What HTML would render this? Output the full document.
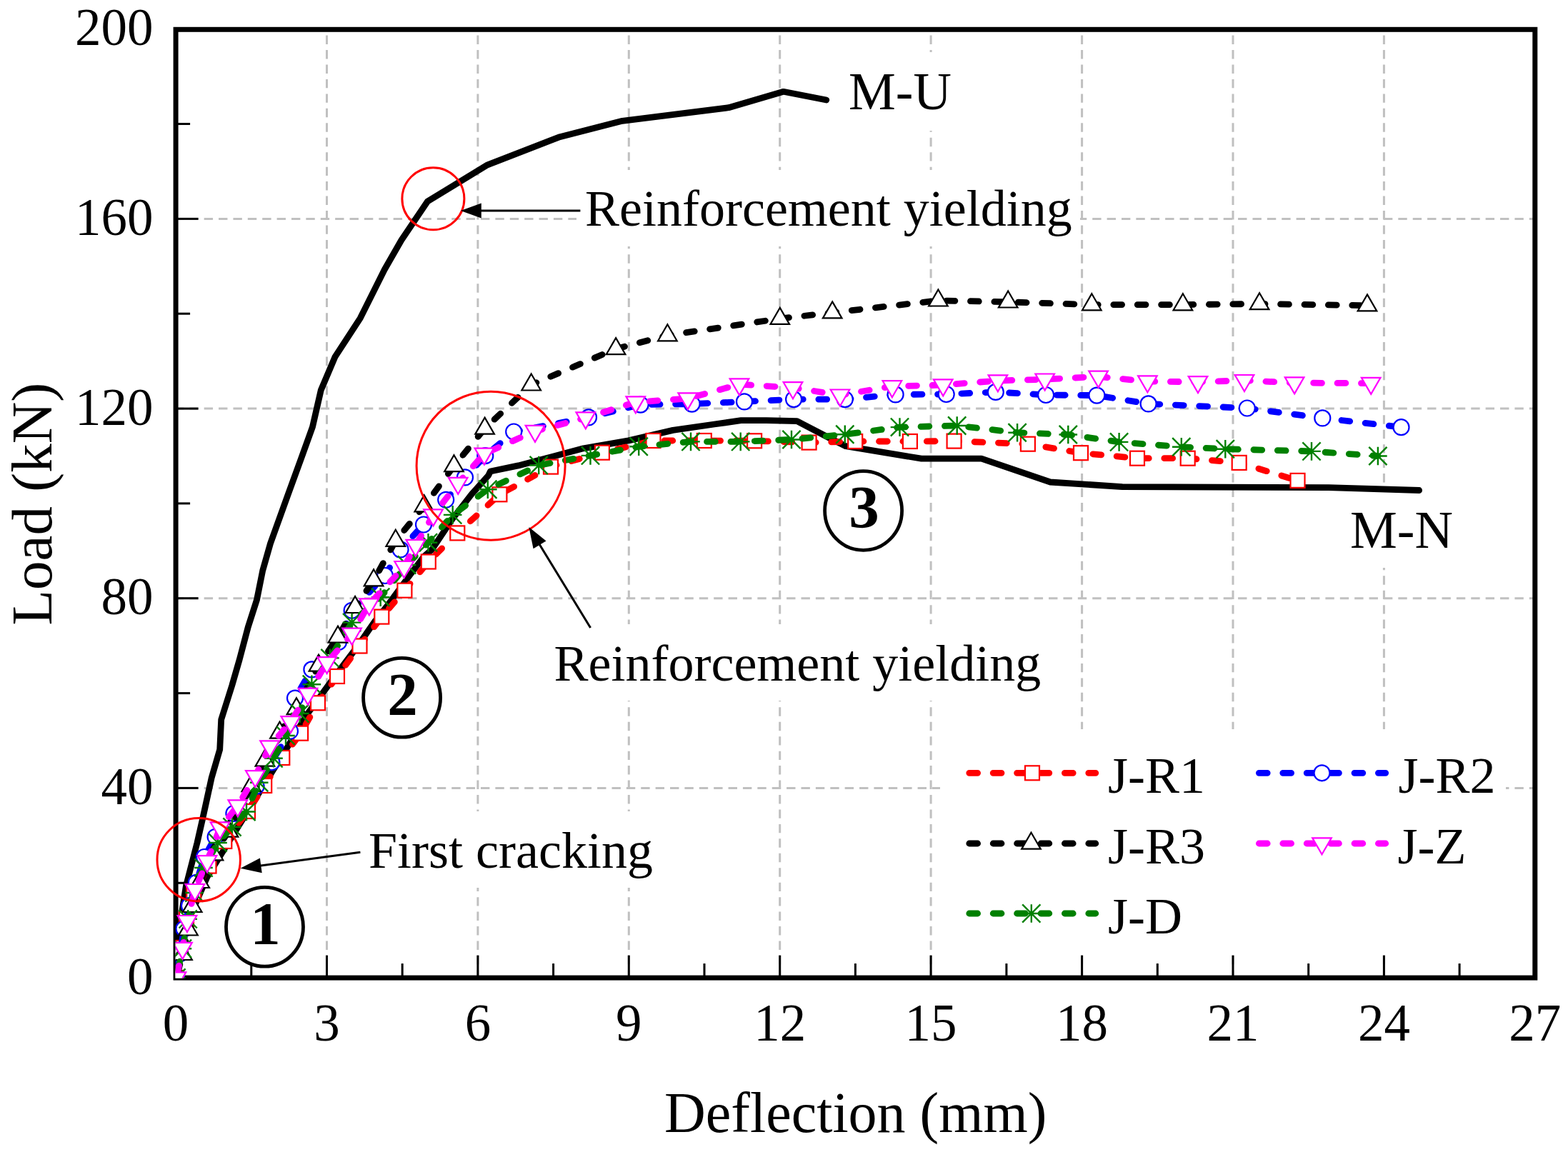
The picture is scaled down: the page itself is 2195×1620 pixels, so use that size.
<!DOCTYPE html>
<html><head><meta charset="utf-8"><title>Load-deflection curves</title>
<style>html,body{margin:0;padding:0;background:#fff;}svg{display:block;}</style>
</head><body>
<svg width="2195" height="1620" viewBox="0 0 2195 1620">
<rect x="0" y="0" width="2195" height="1620" fill="#fff"/>
<g stroke="#c0c0c0" stroke-width="3" stroke-dasharray="12.4 8.05" fill="none"><line x1="457.5" y1="1370.8" x2="457.5" y2="40.7"/><line x1="668.9" y1="1370.8" x2="668.9" y2="40.7"/><line x1="880.3" y1="1370.8" x2="880.3" y2="40.7"/><line x1="1091.7" y1="1370.8" x2="1091.7" y2="40.7"/><line x1="1303.1" y1="1370.8" x2="1303.1" y2="40.7"/><line x1="1514.6" y1="1370.8" x2="1514.6" y2="40.7"/><line x1="1726.0" y1="1370.8" x2="1726.0" y2="40.7"/><line x1="1937.4" y1="1370.8" x2="1937.4" y2="40.7"/></g>
<g stroke="#c0c0c0" stroke-width="3" stroke-dasharray="12.4 7.986" fill="none"><line x1="244.9" y1="1103.4" x2="2148.8" y2="1103.4"/><line x1="244.9" y1="837.7" x2="2148.8" y2="837.7"/><line x1="244.9" y1="572.1" x2="2148.8" y2="572.1"/><line x1="244.9" y1="306.4" x2="2148.8" y2="306.4"/></g>
<rect x="1176" y="73" width="166" height="110" fill="#fff"/>
<rect x="807" y="238" width="705" height="107" fill="#fff"/>
<rect x="1878" y="687" width="166" height="108" fill="#fff"/>
<rect x="763" y="874" width="706" height="107" fill="#fff"/>
<rect x="504" y="1136" width="424" height="107" fill="#fff"/>
<rect x="1316" y="1021" width="792" height="315" fill="#fff"/>
<g stroke="#000" stroke-width="3"><line x1="351.8" y1="1369.1" x2="351.8" y2="1349.1"/><line x1="457.5" y1="1369.1" x2="457.5" y2="1337.6"/><line x1="563.2" y1="1369.1" x2="563.2" y2="1349.1"/><line x1="668.9" y1="1369.1" x2="668.9" y2="1337.6"/><line x1="774.6" y1="1369.1" x2="774.6" y2="1349.1"/><line x1="880.3" y1="1369.1" x2="880.3" y2="1337.6"/><line x1="986.0" y1="1369.1" x2="986.0" y2="1349.1"/><line x1="1091.7" y1="1369.1" x2="1091.7" y2="1337.6"/><line x1="1197.4" y1="1369.1" x2="1197.4" y2="1349.1"/><line x1="1303.1" y1="1369.1" x2="1303.1" y2="1337.6"/><line x1="1408.9" y1="1369.1" x2="1408.9" y2="1349.1"/><line x1="1514.6" y1="1369.1" x2="1514.6" y2="1337.6"/><line x1="1620.3" y1="1369.1" x2="1620.3" y2="1349.1"/><line x1="1726.0" y1="1369.1" x2="1726.0" y2="1337.6"/><line x1="1831.7" y1="1369.1" x2="1831.7" y2="1349.1"/><line x1="1937.4" y1="1369.1" x2="1937.4" y2="1337.6"/><line x1="2043.1" y1="1369.1" x2="2043.1" y2="1349.1"/><line x1="246.1" y1="1236.3" x2="266.1" y2="1236.3"/><line x1="246.1" y1="1103.4" x2="277.6" y2="1103.4"/><line x1="246.1" y1="970.6" x2="266.1" y2="970.6"/><line x1="246.1" y1="837.7" x2="277.6" y2="837.7"/><line x1="246.1" y1="704.9" x2="266.1" y2="704.9"/><line x1="246.1" y1="572.1" x2="277.6" y2="572.1"/><line x1="246.1" y1="439.2" x2="266.1" y2="439.2"/><line x1="246.1" y1="306.4" x2="277.6" y2="306.4"/><line x1="246.1" y1="173.5" x2="266.1" y2="173.5"/></g>
<rect x="246.1" y="41.3" width="1902.7" height="1327.8" fill="none" stroke="#000" stroke-width="7"/>
<defs><clipPath id="pc"><rect x="245.7" y="0" width="1905" height="1369.6"/></clipPath></defs>
<g clip-path="url(#pc)">
<path d="M246.5,1369.0 L262.0,1292.0 L290.0,1228.0 L330.0,1163.0 L372.0,1095.0 L400.0,1050.0 L430.0,1000.0 L470.0,945.4 L499.0,907.0 L524.7,870.0 L541.5,849.0 L570.6,809.5 L592.8,779.9 L604.5,769.6 L633.5,726.4 L660.3,691.9 L683.6,665.9 L686.5,660.0 L725.6,651.9 L771.0,640.0 L816.7,627.8 L880.0,616.9 L942.0,602.4 L1000.0,594.0 L1037.3,588.7 L1072.8,588.7 L1115.7,589.6 L1156.7,611.0 L1184.0,624.7 L1289.9,642.2 L1373.9,642.2 L1470.3,675.0 L1571.1,681.6 L1860.0,682.6 L1986.6,686.5" fill="none" stroke="#000" stroke-width="8.8" stroke-linejoin="round" stroke-linecap="round"/>
<path d="M246.5,1369.0 L250.5,1320.0 L255.0,1275.0 L260.5,1240.0 L268.0,1211.0 L276.0,1180.0 L283.5,1147.0 L287.3,1129.7 L296.2,1089.0 L307.7,1049.6 L309.7,1007.5 L324.7,960.0 L335.1,924.0 L347.3,877.8 L359.5,839.8 L367.7,799.0 L378.5,761.0 L403.0,693.0 L422.3,640.0 L437.5,597.8 L449.3,546.2 L469.2,499.3 L504.4,445.3 L538.4,377.3 L561.9,336.2 L598.5,282.0 L682.5,230.8 L783.7,191.7 L871.1,169.3 L1020.1,150.7 L1096.7,128.3 L1156.8,140.0" fill="none" stroke="#000" stroke-width="8.8" stroke-linejoin="round" stroke-linecap="round"/>
<path d="M247.0,1369.0 L252.8,1327.0 L261.0,1287.0 L271.2,1250.0 L292.5,1212.6 L314.3,1178.0 L347.0,1136.0 L370.2,1100.0 L395.3,1061.0 L421.1,1026.7 L445.0,984.3 L472.0,947.0 L503.5,904.5 L534.3,863.6 L566.4,826.7 L599.8,786.5 L640.3,746.4 L699.4,692.3 L771.0,653.6 L842.9,633.7 L914.5,617.0 L985.8,617.0 L1056.1,617.3 L1132.6,619.6 L1197.2,618.0 L1273.9,618.0 L1335.6,617.6 L1438.9,621.7 L1513.0,634.2 L1592.0,641.7 L1662.7,641.7 L1734.7,647.9 L1816.5,672.9" fill="none" stroke="#ff0000" stroke-width="8.8" stroke-linecap="round" stroke-linejoin="round" stroke-dasharray="11.8 21.6" stroke-dashoffset="-4.2"/>
<rect x="237.0" y="1359.0" width="20" height="20" fill="#fff" stroke="#ff0000" stroke-width="2.2"/><rect x="242.8" y="1317.0" width="20" height="20" fill="#fff" stroke="#ff0000" stroke-width="2.2"/><rect x="251.0" y="1277.0" width="20" height="20" fill="#fff" stroke="#ff0000" stroke-width="2.2"/><rect x="261.2" y="1240.0" width="20" height="20" fill="#fff" stroke="#ff0000" stroke-width="2.2"/><rect x="282.5" y="1202.6" width="20" height="20" fill="#fff" stroke="#ff0000" stroke-width="2.2"/><rect x="304.3" y="1168.0" width="20" height="20" fill="#fff" stroke="#ff0000" stroke-width="2.2"/><rect x="337.0" y="1126.0" width="20" height="20" fill="#fff" stroke="#ff0000" stroke-width="2.2"/><rect x="360.2" y="1090.0" width="20" height="20" fill="#fff" stroke="#ff0000" stroke-width="2.2"/><rect x="385.3" y="1051.0" width="20" height="20" fill="#fff" stroke="#ff0000" stroke-width="2.2"/><rect x="411.1" y="1016.7" width="20" height="20" fill="#fff" stroke="#ff0000" stroke-width="2.2"/><rect x="435.0" y="974.3" width="20" height="20" fill="#fff" stroke="#ff0000" stroke-width="2.2"/><rect x="462.0" y="937.0" width="20" height="20" fill="#fff" stroke="#ff0000" stroke-width="2.2"/><rect x="493.5" y="894.5" width="20" height="20" fill="#fff" stroke="#ff0000" stroke-width="2.2"/><rect x="524.3" y="853.6" width="20" height="20" fill="#fff" stroke="#ff0000" stroke-width="2.2"/><rect x="556.4" y="816.7" width="20" height="20" fill="#fff" stroke="#ff0000" stroke-width="2.2"/><rect x="589.8" y="776.5" width="20" height="20" fill="#fff" stroke="#ff0000" stroke-width="2.2"/><rect x="630.3" y="736.4" width="20" height="20" fill="#fff" stroke="#ff0000" stroke-width="2.2"/><rect x="689.4" y="682.3" width="20" height="20" fill="#fff" stroke="#ff0000" stroke-width="2.2"/><rect x="761.0" y="643.6" width="20" height="20" fill="#fff" stroke="#ff0000" stroke-width="2.2"/><rect x="832.9" y="623.7" width="20" height="20" fill="#fff" stroke="#ff0000" stroke-width="2.2"/><rect x="904.5" y="607.0" width="20" height="20" fill="#fff" stroke="#ff0000" stroke-width="2.2"/><rect x="975.8" y="607.0" width="20" height="20" fill="#fff" stroke="#ff0000" stroke-width="2.2"/><rect x="1046.1" y="607.3" width="20" height="20" fill="#fff" stroke="#ff0000" stroke-width="2.2"/><rect x="1122.6" y="609.6" width="20" height="20" fill="#fff" stroke="#ff0000" stroke-width="2.2"/><rect x="1187.2" y="608.0" width="20" height="20" fill="#fff" stroke="#ff0000" stroke-width="2.2"/><rect x="1263.9" y="608.0" width="20" height="20" fill="#fff" stroke="#ff0000" stroke-width="2.2"/><rect x="1325.6" y="607.6" width="20" height="20" fill="#fff" stroke="#ff0000" stroke-width="2.2"/><rect x="1428.9" y="611.7" width="20" height="20" fill="#fff" stroke="#ff0000" stroke-width="2.2"/><rect x="1503.0" y="624.2" width="20" height="20" fill="#fff" stroke="#ff0000" stroke-width="2.2"/><rect x="1582.0" y="631.7" width="20" height="20" fill="#fff" stroke="#ff0000" stroke-width="2.2"/><rect x="1652.7" y="631.7" width="20" height="20" fill="#fff" stroke="#ff0000" stroke-width="2.2"/><rect x="1724.7" y="637.9" width="20" height="20" fill="#fff" stroke="#ff0000" stroke-width="2.2"/><rect x="1806.5" y="662.9" width="20" height="20" fill="#fff" stroke="#ff0000" stroke-width="2.2"/>
<path d="M247.0,1369.0 L252.0,1335.5 L257.5,1300.5 L265.0,1268.0 L274.8,1235.8 L286.0,1200.0 L301.6,1171.8 L327.4,1139.0 L358.6,1101.0 L380.4,1067.3 L406.0,1023.8 L413.0,977.6 L436.4,937.4 L474.0,899.0 L492.6,854.8 L539.0,806.0 L560.6,769.4 L593.0,734.5 L624.2,699.8 L651.0,668.4 L679.3,638.2 L719.2,604.5 L824.0,584.4 L896.7,566.6 L968.6,565.6 L1042.0,562.4 L1111.1,559.1 L1182.8,559.1 L1253.6,552.4 L1324.7,552.0 L1393.8,548.9 L1464.1,553.0 L1535.4,553.6 L1607.6,565.4 L1745.8,571.5 L1851.3,585.4 L1961.5,598.2" fill="none" stroke="#0000ff" stroke-width="8.8" stroke-linecap="round" stroke-linejoin="round" stroke-dasharray="11.8 21.6" stroke-dashoffset="-16.4"/>
<circle cx="247.0" cy="1369.0" r="11" fill="#fff" stroke="#0000ff" stroke-width="2.2"/><circle cx="252.0" cy="1335.5" r="11" fill="#fff" stroke="#0000ff" stroke-width="2.2"/><circle cx="257.5" cy="1300.5" r="11" fill="#fff" stroke="#0000ff" stroke-width="2.2"/><circle cx="265.0" cy="1268.0" r="11" fill="#fff" stroke="#0000ff" stroke-width="2.2"/><circle cx="274.8" cy="1235.8" r="11" fill="#fff" stroke="#0000ff" stroke-width="2.2"/><circle cx="286.0" cy="1200.0" r="11" fill="#fff" stroke="#0000ff" stroke-width="2.2"/><circle cx="301.6" cy="1171.8" r="11" fill="#fff" stroke="#0000ff" stroke-width="2.2"/><circle cx="327.4" cy="1139.0" r="11" fill="#fff" stroke="#0000ff" stroke-width="2.2"/><circle cx="358.6" cy="1101.0" r="11" fill="#fff" stroke="#0000ff" stroke-width="2.2"/><circle cx="380.4" cy="1067.3" r="11" fill="#fff" stroke="#0000ff" stroke-width="2.2"/><circle cx="406.0" cy="1023.8" r="11" fill="#fff" stroke="#0000ff" stroke-width="2.2"/><circle cx="413.0" cy="977.6" r="11" fill="#fff" stroke="#0000ff" stroke-width="2.2"/><circle cx="436.4" cy="937.4" r="11" fill="#fff" stroke="#0000ff" stroke-width="2.2"/><circle cx="474.0" cy="899.0" r="11" fill="#fff" stroke="#0000ff" stroke-width="2.2"/><circle cx="492.6" cy="854.8" r="11" fill="#fff" stroke="#0000ff" stroke-width="2.2"/><circle cx="539.0" cy="806.0" r="11" fill="#fff" stroke="#0000ff" stroke-width="2.2"/><circle cx="560.6" cy="769.4" r="11" fill="#fff" stroke="#0000ff" stroke-width="2.2"/><circle cx="593.0" cy="734.5" r="11" fill="#fff" stroke="#0000ff" stroke-width="2.2"/><circle cx="624.2" cy="699.8" r="11" fill="#fff" stroke="#0000ff" stroke-width="2.2"/><circle cx="651.0" cy="668.4" r="11" fill="#fff" stroke="#0000ff" stroke-width="2.2"/><circle cx="679.3" cy="638.2" r="11" fill="#fff" stroke="#0000ff" stroke-width="2.2"/><circle cx="719.2" cy="604.5" r="11" fill="#fff" stroke="#0000ff" stroke-width="2.2"/><circle cx="824.0" cy="584.4" r="11" fill="#fff" stroke="#0000ff" stroke-width="2.2"/><circle cx="896.7" cy="566.6" r="11" fill="#fff" stroke="#0000ff" stroke-width="2.2"/><circle cx="968.6" cy="565.6" r="11" fill="#fff" stroke="#0000ff" stroke-width="2.2"/><circle cx="1042.0" cy="562.4" r="11" fill="#fff" stroke="#0000ff" stroke-width="2.2"/><circle cx="1111.1" cy="559.1" r="11" fill="#fff" stroke="#0000ff" stroke-width="2.2"/><circle cx="1182.8" cy="559.1" r="11" fill="#fff" stroke="#0000ff" stroke-width="2.2"/><circle cx="1253.6" cy="552.4" r="11" fill="#fff" stroke="#0000ff" stroke-width="2.2"/><circle cx="1324.7" cy="552.0" r="11" fill="#fff" stroke="#0000ff" stroke-width="2.2"/><circle cx="1393.8" cy="548.9" r="11" fill="#fff" stroke="#0000ff" stroke-width="2.2"/><circle cx="1464.1" cy="553.0" r="11" fill="#fff" stroke="#0000ff" stroke-width="2.2"/><circle cx="1535.4" cy="553.6" r="11" fill="#fff" stroke="#0000ff" stroke-width="2.2"/><circle cx="1607.6" cy="565.4" r="11" fill="#fff" stroke="#0000ff" stroke-width="2.2"/><circle cx="1745.8" cy="571.5" r="11" fill="#fff" stroke="#0000ff" stroke-width="2.2"/><circle cx="1851.3" cy="585.4" r="11" fill="#fff" stroke="#0000ff" stroke-width="2.2"/><circle cx="1961.5" cy="598.2" r="11" fill="#fff" stroke="#0000ff" stroke-width="2.2"/>
<path d="M247.0,1369.0 L255.5,1336.3 L263.5,1301.8 L269.2,1269.3 L279.7,1235.3 L299.0,1196.6 L320.0,1163.9 L351.8,1100.5 L370.9,1064.9 L391.5,1025.9 L415.0,992.5 L446.0,931.9 L473.0,891.9 L497.1,850.3 L523.1,812.6 L553.8,757.1 L593.8,708.6 L635.5,652.5 L678.6,599.9 L743.7,538.8 L862.1,488.4 L934.4,469.6 L1091.8,446.2 L1165.2,437.7 L1313.4,420.8 L1411.2,422.8 L1528.3,426.6 L1655.9,426.6 L1763.1,425.5 L1914.0,427.7" fill="none" stroke="#000000" stroke-width="8.8" stroke-linecap="round" stroke-linejoin="round" stroke-dasharray="11.8 21.6" stroke-dashoffset="-7.3"/>
<path d="M247.0,1353.7 L260.3,1376.7 L233.7,1376.7 Z" fill="#fff" stroke="#000000" stroke-width="2.2"/><path d="M255.5,1321.0 L268.8,1344.0 L242.2,1344.0 Z" fill="#fff" stroke="#000000" stroke-width="2.2"/><path d="M263.5,1286.5 L276.8,1309.5 L250.2,1309.5 Z" fill="#fff" stroke="#000000" stroke-width="2.2"/><path d="M269.2,1254.0 L282.5,1277.0 L255.9,1277.0 Z" fill="#fff" stroke="#000000" stroke-width="2.2"/><path d="M279.7,1220.0 L293.0,1243.0 L266.4,1243.0 Z" fill="#fff" stroke="#000000" stroke-width="2.2"/><path d="M299.0,1181.3 L312.3,1204.3 L285.7,1204.3 Z" fill="#fff" stroke="#000000" stroke-width="2.2"/><path d="M320.0,1148.6 L333.3,1171.6 L306.7,1171.6 Z" fill="#fff" stroke="#000000" stroke-width="2.2"/><path d="M351.8,1085.2 L365.1,1108.2 L338.5,1108.2 Z" fill="#fff" stroke="#000000" stroke-width="2.2"/><path d="M370.9,1049.6 L384.2,1072.6 L357.6,1072.6 Z" fill="#fff" stroke="#000000" stroke-width="2.2"/><path d="M391.5,1010.6 L404.8,1033.6 L378.2,1033.6 Z" fill="#fff" stroke="#000000" stroke-width="2.2"/><path d="M415.0,977.2 L428.3,1000.2 L401.7,1000.2 Z" fill="#fff" stroke="#000000" stroke-width="2.2"/><path d="M446.0,916.6 L459.3,939.6 L432.7,939.6 Z" fill="#fff" stroke="#000000" stroke-width="2.2"/><path d="M473.0,876.6 L486.3,899.6 L459.7,899.6 Z" fill="#fff" stroke="#000000" stroke-width="2.2"/><path d="M497.1,835.0 L510.4,858.0 L483.8,858.0 Z" fill="#fff" stroke="#000000" stroke-width="2.2"/><path d="M523.1,797.3 L536.4,820.3 L509.8,820.3 Z" fill="#fff" stroke="#000000" stroke-width="2.2"/><path d="M553.8,741.8 L567.1,764.8 L540.5,764.8 Z" fill="#fff" stroke="#000000" stroke-width="2.2"/><path d="M593.8,693.3 L607.1,716.3 L580.5,716.3 Z" fill="#fff" stroke="#000000" stroke-width="2.2"/><path d="M635.5,637.2 L648.8,660.2 L622.2,660.2 Z" fill="#fff" stroke="#000000" stroke-width="2.2"/><path d="M678.6,584.6 L691.9,607.6 L665.3,607.6 Z" fill="#fff" stroke="#000000" stroke-width="2.2"/><path d="M743.7,523.5 L757.0,546.5 L730.4,546.5 Z" fill="#fff" stroke="#000000" stroke-width="2.2"/><path d="M862.1,473.1 L875.4,496.1 L848.8,496.1 Z" fill="#fff" stroke="#000000" stroke-width="2.2"/><path d="M934.4,454.3 L947.7,477.3 L921.1,477.3 Z" fill="#fff" stroke="#000000" stroke-width="2.2"/><path d="M1091.8,430.9 L1105.1,453.9 L1078.5,453.9 Z" fill="#fff" stroke="#000000" stroke-width="2.2"/><path d="M1165.2,422.4 L1178.5,445.4 L1151.9,445.4 Z" fill="#fff" stroke="#000000" stroke-width="2.2"/><path d="M1313.4,405.5 L1326.7,428.5 L1300.1,428.5 Z" fill="#fff" stroke="#000000" stroke-width="2.2"/><path d="M1411.2,407.5 L1424.5,430.5 L1397.9,430.5 Z" fill="#fff" stroke="#000000" stroke-width="2.2"/><path d="M1528.3,411.3 L1541.6,434.3 L1515.0,434.3 Z" fill="#fff" stroke="#000000" stroke-width="2.2"/><path d="M1655.9,411.3 L1669.2,434.3 L1642.6,434.3 Z" fill="#fff" stroke="#000000" stroke-width="2.2"/><path d="M1763.1,410.2 L1776.4,433.2 L1749.8,433.2 Z" fill="#fff" stroke="#000000" stroke-width="2.2"/><path d="M1914.0,412.4 L1927.3,435.4 L1900.7,435.4 Z" fill="#fff" stroke="#000000" stroke-width="2.2"/>
<path d="M247.0,1369.0 L255.4,1328.3 L263.2,1286.9 L272.0,1250.0 L285.0,1215.0 L305.0,1180.0 L325.0,1158.0 L345.0,1136.5 L362.7,1095.8 L383.0,1061.8 L400.0,1030.0 L419.7,999.0 L436.4,958.3 L462.0,921.4 L492.6,871.6 L532.7,836.3 L569.6,791.0 L599.5,759.8 L633.7,720.9 L682.8,685.3 L754.2,651.5 L826.5,637.9 L894.2,625.3 L967.0,618.4 L1036.7,618.4 L1108.0,615.5 L1182.8,608.3 L1259.5,598.1 L1339.7,596.0 L1424.1,605.7 L1495.3,608.5 L1566.6,618.9 L1653.8,625.8 L1715.3,628.7 L1836.0,631.9 L1928.9,638.5" fill="none" stroke="#008000" stroke-width="8.8" stroke-linecap="round" stroke-linejoin="round" stroke-dasharray="11.8 21.6" stroke-dashoffset="-11.5"/>
<path d="M247.0,1356.2 V1381.8 M234.2,1369.0 H259.8 M234.4,1356.4 L259.6,1381.6 M234.4,1381.6 L259.6,1356.4" stroke="#008000" stroke-width="2.4" fill="none"/><path d="M255.4,1315.5 V1341.1 M242.6,1328.3 H268.2 M242.8,1315.7 L268.0,1340.9 M242.8,1340.9 L268.0,1315.7" stroke="#008000" stroke-width="2.4" fill="none"/><path d="M263.2,1274.1 V1299.7 M250.4,1286.9 H276.0 M250.6,1274.3 L275.8,1299.5 M250.6,1299.5 L275.8,1274.3" stroke="#008000" stroke-width="2.4" fill="none"/><path d="M272.0,1237.2 V1262.8 M259.2,1250.0 H284.8 M259.4,1237.4 L284.6,1262.6 M259.4,1262.6 L284.6,1237.4" stroke="#008000" stroke-width="2.4" fill="none"/><path d="M285.0,1202.2 V1227.8 M272.2,1215.0 H297.8 M272.4,1202.4 L297.6,1227.6 M272.4,1227.6 L297.6,1202.4" stroke="#008000" stroke-width="2.4" fill="none"/><path d="M305.0,1167.2 V1192.8 M292.2,1180.0 H317.8 M292.4,1167.4 L317.6,1192.6 M292.4,1192.6 L317.6,1167.4" stroke="#008000" stroke-width="2.4" fill="none"/><path d="M325.0,1145.2 V1170.8 M312.2,1158.0 H337.8 M312.4,1145.4 L337.6,1170.6 M312.4,1170.6 L337.6,1145.4" stroke="#008000" stroke-width="2.4" fill="none"/><path d="M345.0,1123.7 V1149.3 M332.2,1136.5 H357.8 M332.4,1123.9 L357.6,1149.1 M332.4,1149.1 L357.6,1123.9" stroke="#008000" stroke-width="2.4" fill="none"/><path d="M362.7,1083.0 V1108.6 M349.9,1095.8 H375.5 M350.1,1083.2 L375.3,1108.4 M350.1,1108.4 L375.3,1083.2" stroke="#008000" stroke-width="2.4" fill="none"/><path d="M383.0,1049.0 V1074.6 M370.2,1061.8 H395.8 M370.4,1049.2 L395.6,1074.4 M370.4,1074.4 L395.6,1049.2" stroke="#008000" stroke-width="2.4" fill="none"/><path d="M400.0,1017.2 V1042.8 M387.2,1030.0 H412.8 M387.4,1017.4 L412.6,1042.6 M387.4,1042.6 L412.6,1017.4" stroke="#008000" stroke-width="2.4" fill="none"/><path d="M419.7,986.2 V1011.8 M406.9,999.0 H432.5 M407.1,986.4 L432.3,1011.6 M407.1,1011.6 L432.3,986.4" stroke="#008000" stroke-width="2.4" fill="none"/><path d="M436.4,945.5 V971.1 M423.6,958.3 H449.2 M423.8,945.7 L449.0,970.9 M423.8,970.9 L449.0,945.7" stroke="#008000" stroke-width="2.4" fill="none"/><path d="M462.0,908.6 V934.2 M449.2,921.4 H474.8 M449.4,908.8 L474.6,934.0 M449.4,934.0 L474.6,908.8" stroke="#008000" stroke-width="2.4" fill="none"/><path d="M492.6,858.8 V884.4 M479.8,871.6 H505.4 M480.0,859.0 L505.2,884.2 M480.0,884.2 L505.2,859.0" stroke="#008000" stroke-width="2.4" fill="none"/><path d="M532.7,823.5 V849.1 M519.9,836.3 H545.5 M520.1,823.7 L545.3,848.9 M520.1,848.9 L545.3,823.7" stroke="#008000" stroke-width="2.4" fill="none"/><path d="M569.6,778.2 V803.8 M556.8,791.0 H582.4 M557.0,778.4 L582.2,803.6 M557.0,803.6 L582.2,778.4" stroke="#008000" stroke-width="2.4" fill="none"/><path d="M599.5,747.0 V772.6 M586.7,759.8 H612.3 M586.9,747.2 L612.1,772.4 M586.9,772.4 L612.1,747.2" stroke="#008000" stroke-width="2.4" fill="none"/><path d="M633.7,708.1 V733.7 M620.9,720.9 H646.5 M621.1,708.3 L646.3,733.5 M621.1,733.5 L646.3,708.3" stroke="#008000" stroke-width="2.4" fill="none"/><path d="M682.8,672.5 V698.1 M670.0,685.3 H695.6 M670.2,672.7 L695.4,697.9 M670.2,697.9 L695.4,672.7" stroke="#008000" stroke-width="2.4" fill="none"/><path d="M754.2,638.7 V664.3 M741.4,651.5 H767.0 M741.6,638.9 L766.8,664.1 M741.6,664.1 L766.8,638.9" stroke="#008000" stroke-width="2.4" fill="none"/><path d="M826.5,625.1 V650.7 M813.7,637.9 H839.3 M813.9,625.3 L839.1,650.5 M813.9,650.5 L839.1,625.3" stroke="#008000" stroke-width="2.4" fill="none"/><path d="M894.2,612.5 V638.1 M881.4,625.3 H907.0 M881.6,612.7 L906.8,637.9 M881.6,637.9 L906.8,612.7" stroke="#008000" stroke-width="2.4" fill="none"/><path d="M967.0,605.6 V631.2 M954.2,618.4 H979.8 M954.4,605.8 L979.6,631.0 M954.4,631.0 L979.6,605.8" stroke="#008000" stroke-width="2.4" fill="none"/><path d="M1036.7,605.6 V631.2 M1023.9,618.4 H1049.5 M1024.1,605.8 L1049.3,631.0 M1024.1,631.0 L1049.3,605.8" stroke="#008000" stroke-width="2.4" fill="none"/><path d="M1108.0,602.7 V628.3 M1095.2,615.5 H1120.8 M1095.4,602.9 L1120.6,628.1 M1095.4,628.1 L1120.6,602.9" stroke="#008000" stroke-width="2.4" fill="none"/><path d="M1182.8,595.5 V621.1 M1170.0,608.3 H1195.6 M1170.2,595.7 L1195.4,620.9 M1170.2,620.9 L1195.4,595.7" stroke="#008000" stroke-width="2.4" fill="none"/><path d="M1259.5,585.3 V610.9 M1246.7,598.1 H1272.3 M1246.9,585.5 L1272.1,610.7 M1246.9,610.7 L1272.1,585.5" stroke="#008000" stroke-width="2.4" fill="none"/><path d="M1339.7,583.2 V608.8 M1326.9,596.0 H1352.5 M1327.1,583.4 L1352.3,608.6 M1327.1,608.6 L1352.3,583.4" stroke="#008000" stroke-width="2.4" fill="none"/><path d="M1424.1,592.9 V618.5 M1411.3,605.7 H1436.9 M1411.5,593.1 L1436.7,618.3 M1411.5,618.3 L1436.7,593.1" stroke="#008000" stroke-width="2.4" fill="none"/><path d="M1495.3,595.7 V621.3 M1482.5,608.5 H1508.1 M1482.7,595.9 L1507.9,621.1 M1482.7,621.1 L1507.9,595.9" stroke="#008000" stroke-width="2.4" fill="none"/><path d="M1566.6,606.1 V631.7 M1553.8,618.9 H1579.4 M1554.0,606.3 L1579.2,631.5 M1554.0,631.5 L1579.2,606.3" stroke="#008000" stroke-width="2.4" fill="none"/><path d="M1653.8,613.0 V638.6 M1641.0,625.8 H1666.6 M1641.2,613.2 L1666.4,638.4 M1641.2,638.4 L1666.4,613.2" stroke="#008000" stroke-width="2.4" fill="none"/><path d="M1715.3,615.9 V641.5 M1702.5,628.7 H1728.1 M1702.7,616.1 L1727.9,641.3 M1702.7,641.3 L1727.9,616.1" stroke="#008000" stroke-width="2.4" fill="none"/><path d="M1836.0,619.1 V644.7 M1823.2,631.9 H1848.8 M1823.4,619.3 L1848.6,644.5 M1823.4,644.5 L1848.6,619.3" stroke="#008000" stroke-width="2.4" fill="none"/><path d="M1928.9,625.7 V651.3 M1916.1,638.5 H1941.7 M1916.3,625.9 L1941.5,651.1 M1916.3,651.1 L1941.5,625.9" stroke="#008000" stroke-width="2.4" fill="none"/>
<path d="M247.0,1369.0 L255.5,1327.6 L262.0,1289.7 L272.9,1245.7 L290.0,1205.9 L308.0,1159.1 L332.8,1128.1 L357.3,1086.8 L377.6,1045.1 L406.8,1010.8 L431.0,971.6 L457.6,927.8 L492.6,887.4 L516.8,846.1 L565.7,793.7 L581.8,763.5 L606.5,721.1 L641.2,676.6 L677.9,635.3 L749.0,603.6 L819.8,585.1 L889.8,563.1 L962.7,558.1 L1035.0,538.1 L1110.0,542.9 L1176.0,553.2 L1248.9,540.9 L1320.2,539.1 L1396.9,533.0 L1462.7,531.2 L1537.6,527.3 L1606.4,534.0 L1677.0,534.8 L1742.0,532.7 L1812.1,536.1 L1919.2,536.6" fill="none" stroke="#ff00ff" stroke-width="8.8" stroke-linecap="round" stroke-linejoin="round" stroke-dasharray="11.8 21.6" stroke-dashoffset="-5.5"/>
<path d="M247.0,1384.3 L260.3,1361.3 L233.7,1361.3 Z" fill="#fff" stroke="#ff00ff" stroke-width="2.2"/><path d="M255.5,1342.9 L268.8,1319.9 L242.2,1319.9 Z" fill="#fff" stroke="#ff00ff" stroke-width="2.2"/><path d="M262.0,1305.0 L275.3,1282.0 L248.7,1282.0 Z" fill="#fff" stroke="#ff00ff" stroke-width="2.2"/><path d="M272.9,1261.0 L286.2,1238.0 L259.6,1238.0 Z" fill="#fff" stroke="#ff00ff" stroke-width="2.2"/><path d="M290.0,1221.2 L303.3,1198.2 L276.7,1198.2 Z" fill="#fff" stroke="#ff00ff" stroke-width="2.2"/><path d="M308.0,1174.4 L321.3,1151.4 L294.7,1151.4 Z" fill="#fff" stroke="#ff00ff" stroke-width="2.2"/><path d="M332.8,1143.4 L346.1,1120.4 L319.5,1120.4 Z" fill="#fff" stroke="#ff00ff" stroke-width="2.2"/><path d="M357.3,1102.1 L370.6,1079.1 L344.0,1079.1 Z" fill="#fff" stroke="#ff00ff" stroke-width="2.2"/><path d="M377.6,1060.4 L390.9,1037.4 L364.3,1037.4 Z" fill="#fff" stroke="#ff00ff" stroke-width="2.2"/><path d="M406.8,1026.1 L420.1,1003.1 L393.5,1003.1 Z" fill="#fff" stroke="#ff00ff" stroke-width="2.2"/><path d="M431.0,986.9 L444.3,963.9 L417.7,963.9 Z" fill="#fff" stroke="#ff00ff" stroke-width="2.2"/><path d="M457.6,943.1 L470.9,920.1 L444.3,920.1 Z" fill="#fff" stroke="#ff00ff" stroke-width="2.2"/><path d="M492.6,902.7 L505.9,879.7 L479.3,879.7 Z" fill="#fff" stroke="#ff00ff" stroke-width="2.2"/><path d="M516.8,861.4 L530.1,838.4 L503.5,838.4 Z" fill="#fff" stroke="#ff00ff" stroke-width="2.2"/><path d="M565.7,809.0 L579.0,786.0 L552.4,786.0 Z" fill="#fff" stroke="#ff00ff" stroke-width="2.2"/><path d="M581.8,778.8 L595.1,755.8 L568.5,755.8 Z" fill="#fff" stroke="#ff00ff" stroke-width="2.2"/><path d="M606.5,736.4 L619.8,713.4 L593.2,713.4 Z" fill="#fff" stroke="#ff00ff" stroke-width="2.2"/><path d="M641.2,691.9 L654.5,668.9 L627.9,668.9 Z" fill="#fff" stroke="#ff00ff" stroke-width="2.2"/><path d="M677.9,650.6 L691.2,627.6 L664.6,627.6 Z" fill="#fff" stroke="#ff00ff" stroke-width="2.2"/><path d="M749.0,618.9 L762.3,595.9 L735.7,595.9 Z" fill="#fff" stroke="#ff00ff" stroke-width="2.2"/><path d="M819.8,600.4 L833.1,577.4 L806.5,577.4 Z" fill="#fff" stroke="#ff00ff" stroke-width="2.2"/><path d="M889.8,578.4 L903.1,555.4 L876.5,555.4 Z" fill="#fff" stroke="#ff00ff" stroke-width="2.2"/><path d="M962.7,573.4 L976.0,550.4 L949.4,550.4 Z" fill="#fff" stroke="#ff00ff" stroke-width="2.2"/><path d="M1035.0,553.4 L1048.3,530.4 L1021.7,530.4 Z" fill="#fff" stroke="#ff00ff" stroke-width="2.2"/><path d="M1110.0,558.2 L1123.3,535.2 L1096.7,535.2 Z" fill="#fff" stroke="#ff00ff" stroke-width="2.2"/><path d="M1176.0,568.5 L1189.3,545.5 L1162.7,545.5 Z" fill="#fff" stroke="#ff00ff" stroke-width="2.2"/><path d="M1248.9,556.2 L1262.2,533.2 L1235.6,533.2 Z" fill="#fff" stroke="#ff00ff" stroke-width="2.2"/><path d="M1320.2,554.4 L1333.5,531.4 L1306.9,531.4 Z" fill="#fff" stroke="#ff00ff" stroke-width="2.2"/><path d="M1396.9,548.3 L1410.2,525.3 L1383.6,525.3 Z" fill="#fff" stroke="#ff00ff" stroke-width="2.2"/><path d="M1462.7,546.5 L1476.0,523.5 L1449.4,523.5 Z" fill="#fff" stroke="#ff00ff" stroke-width="2.2"/><path d="M1537.6,542.6 L1550.9,519.6 L1524.3,519.6 Z" fill="#fff" stroke="#ff00ff" stroke-width="2.2"/><path d="M1606.4,549.3 L1619.7,526.3 L1593.1,526.3 Z" fill="#fff" stroke="#ff00ff" stroke-width="2.2"/><path d="M1677.0,550.1 L1690.3,527.1 L1663.7,527.1 Z" fill="#fff" stroke="#ff00ff" stroke-width="2.2"/><path d="M1742.0,548.0 L1755.3,525.0 L1728.7,525.0 Z" fill="#fff" stroke="#ff00ff" stroke-width="2.2"/><path d="M1812.1,551.4 L1825.4,528.4 L1798.8,528.4 Z" fill="#fff" stroke="#ff00ff" stroke-width="2.2"/><path d="M1919.2,551.9 L1932.5,528.9 L1905.9,528.9 Z" fill="#fff" stroke="#ff00ff" stroke-width="2.2"/>
</g>
<text x="246.1" y="1457" font-family="'Liberation Serif','Times New Roman',serif" font-size="73" text-anchor="middle">0</text>
<text x="457.5" y="1457" font-family="'Liberation Serif','Times New Roman',serif" font-size="73" text-anchor="middle">3</text>
<text x="668.9" y="1457" font-family="'Liberation Serif','Times New Roman',serif" font-size="73" text-anchor="middle">6</text>
<text x="880.3" y="1457" font-family="'Liberation Serif','Times New Roman',serif" font-size="73" text-anchor="middle">9</text>
<text x="1091.7" y="1457" font-family="'Liberation Serif','Times New Roman',serif" font-size="73" text-anchor="middle">12</text>
<text x="1303.1" y="1457" font-family="'Liberation Serif','Times New Roman',serif" font-size="73" text-anchor="middle">15</text>
<text x="1514.6" y="1457" font-family="'Liberation Serif','Times New Roman',serif" font-size="73" text-anchor="middle">18</text>
<text x="1726.0" y="1457" font-family="'Liberation Serif','Times New Roman',serif" font-size="73" text-anchor="middle">21</text>
<text x="1937.4" y="1457" font-family="'Liberation Serif','Times New Roman',serif" font-size="73" text-anchor="middle">24</text>
<text x="2148.8" y="1457" font-family="'Liberation Serif','Times New Roman',serif" font-size="73" text-anchor="middle">27</text>
<text x="214.5" y="1391.6" font-family="'Liberation Serif','Times New Roman',serif" font-size="73" text-anchor="end">0</text>
<text x="214.5" y="1125.9" font-family="'Liberation Serif','Times New Roman',serif" font-size="73" text-anchor="end">40</text>
<text x="214.5" y="860.2" font-family="'Liberation Serif','Times New Roman',serif" font-size="73" text-anchor="end">80</text>
<text x="214.5" y="594.6" font-family="'Liberation Serif','Times New Roman',serif" font-size="73" text-anchor="end">120</text>
<text x="214.5" y="328.9" font-family="'Liberation Serif','Times New Roman',serif" font-size="73" text-anchor="end">160</text>
<text x="214.5" y="63.2" font-family="'Liberation Serif','Times New Roman',serif" font-size="73" text-anchor="end">200</text>
<text x="930" y="1584.5" font-family="'Liberation Serif','Times New Roman',serif" font-size="80">Deflection (mm)</text>
<text transform="translate(71.5,875.4) rotate(-90)" font-family="'Liberation Serif','Times New Roman',serif" font-size="81">Load (kN)</text>
<text x="1188" y="152.9" font-family="'Liberation Serif','Times New Roman',serif" font-size="74">M-U</text>
<text x="1890" y="767.3" font-family="'Liberation Serif','Times New Roman',serif" font-size="74">M-N</text>
<text x="819" y="316.2" font-family="'Liberation Serif','Times New Roman',serif" font-size="72">Reinforcement yielding</text>
<text x="775.5" y="953" font-family="'Liberation Serif','Times New Roman',serif" font-size="72">Reinforcement yielding</text>
<text x="516" y="1214.5" font-family="'Liberation Serif','Times New Roman',serif" font-size="72">First cracking</text>
<g fill="none" stroke="#ff0000" stroke-width="3"><circle cx="606.4" cy="278.3" r="43.5"/><circle cx="687.1" cy="652.2" r="104"/><circle cx="278.2" cy="1203.7" r="58.2"/></g>
<line x1="812.4" y1="295.0" x2="671.8" y2="295.0" stroke="#000" stroke-width="3"/><path d="M644.8,295.0 L673.8,284.5 L673.8,305.5 Z" fill="#000"/>
<line x1="504.4" y1="1193.2" x2="363.4" y2="1212.2" stroke="#000" stroke-width="3"/><path d="M336.6,1215.8 L363.9,1201.5 L366.7,1222.3 Z" fill="#000"/>
<line x1="826.6" y1="879.0" x2="754.5" y2="761.1" stroke="#000" stroke-width="3"/><path d="M740.4,738.1 L764.5,757.4 L746.6,768.3 Z" fill="#000"/>
<ellipse cx="370.5" cy="1297.8" rx="54" ry="55.4" fill="none" stroke="#000" stroke-width="4.8"/><text x="371.5" y="1322.1" font-family="'Liberation Serif','Times New Roman',serif" font-weight="bold" font-size="85" text-anchor="middle">1</text>
<ellipse cx="562.6" cy="976.8" rx="54" ry="55.4" fill="none" stroke="#000" stroke-width="4.8"/><text x="563.6" y="1001.0999999999999" font-family="'Liberation Serif','Times New Roman',serif" font-weight="bold" font-size="85" text-anchor="middle">2</text>
<ellipse cx="1208.6" cy="715" rx="54" ry="55.4" fill="none" stroke="#000" stroke-width="4.8"/><text x="1209.6" y="739.3" font-family="'Liberation Serif','Times New Roman',serif" font-weight="bold" font-size="85" text-anchor="middle">3</text>
<line x1="1356.8" y1="1082.3" x2="1533.8" y2="1082.3" stroke="#ff0000" stroke-width="8.8" stroke-linecap="round" stroke-linejoin="round" stroke-dasharray="11.8 21.6"/><rect x="1435.0" y="1072.3" width="20" height="20" fill="#fff" stroke="#ff0000" stroke-width="2.2"/><text x="1551" y="1109.8" font-family="'Liberation Serif','Times New Roman',serif" font-size="72">J-R1</text>
<line x1="1762.4" y1="1082.3" x2="1939.7" y2="1082.3" stroke="#0000ff" stroke-width="8.8" stroke-linecap="round" stroke-linejoin="round" stroke-dasharray="11.8 21.6"/><circle cx="1850.5" cy="1082.3" r="11" fill="#fff" stroke="#0000ff" stroke-width="2.2"/><text x="1957.5" y="1109.8" font-family="'Liberation Serif','Times New Roman',serif" font-size="72">J-R2</text>
<line x1="1356.8" y1="1181" x2="1533.8" y2="1181" stroke="#000000" stroke-width="8.8" stroke-linecap="round" stroke-linejoin="round" stroke-dasharray="11.8 21.6"/><path d="M1443.5,1165.7 L1456.8,1188.7 L1430.2,1188.7 Z" fill="#fff" stroke="#000000" stroke-width="2.2"/><text x="1551" y="1208.5" font-family="'Liberation Serif','Times New Roman',serif" font-size="72">J-R3</text>
<line x1="1762.4" y1="1181" x2="1939.7" y2="1181" stroke="#ff00ff" stroke-width="8.8" stroke-linecap="round" stroke-linejoin="round" stroke-dasharray="11.8 21.6"/><path d="M1850.5,1196.3 L1863.8,1173.3 L1837.2,1173.3 Z" fill="#fff" stroke="#ff00ff" stroke-width="2.2"/><text x="1956.5" y="1208.5" font-family="'Liberation Serif','Times New Roman',serif" font-size="72">J-Z</text>
<line x1="1356.8" y1="1279" x2="1533.8" y2="1279" stroke="#008000" stroke-width="8.8" stroke-linecap="round" stroke-linejoin="round" stroke-dasharray="11.8 21.6"/><path d="M1443.8,1266.2 V1291.8 M1431.0,1279.0 H1456.6 M1431.2,1266.4 L1456.4,1291.6 M1431.2,1291.6 L1456.4,1266.4" stroke="#008000" stroke-width="2.4" fill="none"/><text x="1551" y="1306.5" font-family="'Liberation Serif','Times New Roman',serif" font-size="72">J-D</text>
</svg>
</body></html>
